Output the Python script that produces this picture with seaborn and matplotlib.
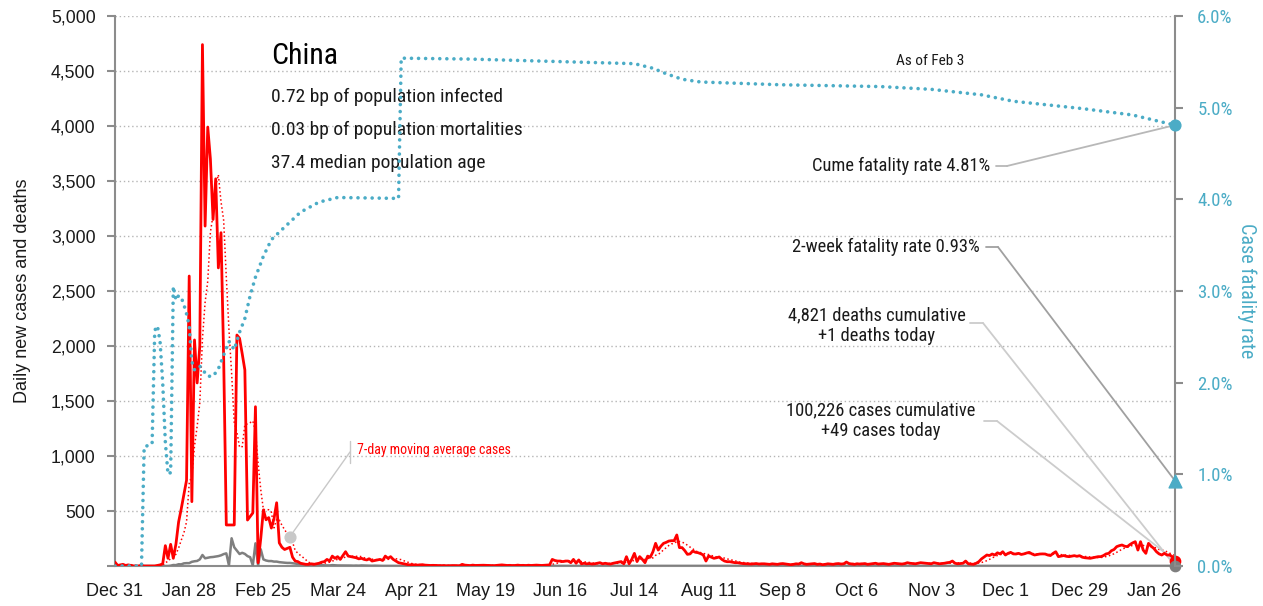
import pandas as pd
import seaborn as sns
import matplotlib.pyplot as plt
import matplotlib.dates as mdates
from matplotlib.ticker import FuncFormatter, MultipleLocator

# daily new cases, China (Dec 31 2019 - Feb 3 2021)
cases_dec19 = [35]
cases_jan20 = [5, 10, 15, 5, 10, 5, 0, 0, 0, 5,
               0, 0, 0, 0, 0, 5, 10, 20, 185, 70,
               197, 70, 200, 400, 520, 650, 780, 2636, 585, 2055, 1664]
cases_feb20 = [2000, 4740, 3090, 3990, 3700, 3150, 3520, 2710, 3030, 1900,
               373, 373, 373, 373, 2100, 2070, 1930, 1782, 418, 450,
               482, 1448, 30, 250, 510, 420, 440, 345, 430]
cases_mar20 = [575, 210, 170, 150, 160, 170, 80, 45, 40, 25,
               20, 15, 15, 20, 15, 20, 25, 35, 40, 60,
               45, 90, 70, 85, 60, 95, 130, 90, 85, 80, 75]
cases_apr20 = [65, 70, 60, 55, 65, 45, 50, 55, 60, 50,
               90, 70, 85, 60, 45, 30, 25, 20, 15, 10,
               12, 10, 8, 10, 12, 8, 6, 5, 6, 5]
cases_may20 = [5, 3, 4, 2, 3, 5, 4, 3, 2, 15,
               8, 6, 4, 8, 5, 6, 8, 7, 6, 5,
               4, 3, 6, 8, 10, 7, 5, 6, 4, 5, 8]
cases_jun20 = [5, 6, 4, 7, 5, 6, 8, 6, 5, 7,
               8, 10, 60, 50, 45, 45, 40, 45, 45, 30,
               60, 25, 55, 20, 25, 20, 22, 18, 20, 25]
cases_jul20 = [30, 20, 25, 20, 18, 25, 30, 35, 40, 20,
               85, 20, 60, 115, 40, 85, 60, 30, 90, 80,
               130, 206, 145, 180, 206, 215, 227, 230, 230, 282, 167]
cases_aug20 = [167, 140, 106, 110, 136, 125, 121, 112, 100, 45,
               91, 80, 70, 75, 82, 60, 45, 39, 39, 35,
               30, 30, 25, 22, 21, 20, 18, 20, 22, 18, 20]
cases_sep20 = [20, 18, 15, 20, 18, 15, 20, 22, 18, 15,
               12, 15, 20, 18, 30, 20, 15, 18, 20, 22,
               15, 18, 12, 15, 20, 18, 15, 20, 22, 18]
cases_oct20 = [20, 36, 22, 18, 15, 20, 18, 20, 22, 15,
               18, 20, 25, 18, 20, 22, 18, 15, 20, 25,
               22, 20, 18, 22, 30, 25, 22, 20, 25, 30, 28]
cases_nov20 = [25, 22, 20, 30, 25, 20, 22, 25, 30, 33,
               45, 25, 20, 22, 25, 45, 20, 18, 15, 25,
               40, 65, 82, 100, 95, 109, 100, 120, 110, 130]
cases_dec20 = [100, 115, 124, 110, 109, 115, 105, 110, 118, 124,
               110, 100, 105, 109, 110, 109, 100, 95, 115, 130,
               85, 90, 95, 88, 85, 90, 94, 88, 94, 80, 75]
cases_jan21 = [72, 70, 75, 80, 85, 85, 95, 110, 115, 139,
               150, 176, 185, 191, 180, 176, 195, 210, 221, 145,
               221, 145, 115, 206, 180, 160, 130, 110, 100, 115, 100]
cases_feb21 = [100, 85, 49]

# daily new deaths
deaths_dec19 = [0]
deaths_jan20 = [0, 0, 0, 0, 0, 0, 0, 0, 0, 0,
                1, 0, 0, 0, 0, 1, 0, 0, 0, 0,
                3, 9, 8, 16, 15, 24, 26, 26, 38, 43, 46]
deaths_feb20 = [60, 100, 70, 75, 80, 82, 86, 90, 97, 108,
                115, 5, 252, 170, 140, 109, 120, 110, 90, 80,
                5, 206, 5, 152, 60, 50, 45, 45, 40]
deaths_mar20 = [40, 35, 32, 30, 28, 28, 25, 22, 18, 15,
                12, 10, 10, 8, 10, 12, 10, 8, 6, 6,
                5, 8, 6, 5, 5, 6, 4, 5, 4, 3, 4]
deaths_apr20 = [3, 5, 4, 3, 2, 2, 3, 2, 2, 1,
                1, 1, 1, 1, 1, 1, 1, 1, 1, 0,
                0, 0, 0, 0, 0, 0, 0, 0, 0, 0]
deaths_may20 = [0, 0, 0, 0, 0, 0, 0, 0, 0, 0,
                0, 0, 0, 0, 0, 0, 0, 0, 0, 0,
                0, 0, 0, 0, 0, 0, 0, 0, 0, 0, 0]
deaths_jun20 = [0, 0, 0, 0, 0, 0, 0, 0, 0, 0,
                0, 0, 0, 0, 0, 0, 0, 0, 0, 0,
                0, 0, 0, 0, 0, 0, 0, 0, 0, 0]
deaths_jul20 = [0, 0, 0, 0, 0, 0, 0, 0, 0, 0,
                0, 0, 0, 0, 0, 0, 0, 0, 0, 0,
                0, 0, 0, 0, 0, 0, 0, 0, 0, 1, 0]
deaths_aug20 = [0, 1, 0, 0, 1, 0, 0, 0, 1, 0,
                0, 1, 0, 0, 0, 0, 0, 0, 0, 0,
                0, 0, 0, 0, 0, 0, 0, 0, 0, 0, 0]
deaths_sep20 = [0, 0, 0, 0, 0, 0, 0, 0, 0, 0,
                0, 0, 0, 0, 0, 0, 0, 0, 0, 0,
                0, 0, 0, 0, 0, 0, 0, 0, 0, 0]
deaths_oct20 = [0, 0, 0, 0, 0, 0, 0, 0, 0, 0,
                0, 0, 0, 0, 0, 0, 0, 0, 0, 0,
                0, 0, 0, 0, 0, 0, 0, 0, 0, 0, 0]
deaths_nov20 = [0, 0, 0, 0, 0, 0, 0, 0, 0, 0,
                0, 0, 0, 0, 0, 0, 0, 0, 0, 0,
                0, 0, 0, 0, 0, 0, 0, 0, 0, 0]
deaths_dec20 = [0, 0, 0, 0, 0, 0, 0, 0, 0, 0,
                0, 0, 0, 0, 0, 0, 0, 0, 0, 0,
                0, 0, 0, 0, 0, 0, 0, 0, 0, 0, 0]
deaths_jan21 = [0, 0, 0, 0, 0, 0, 0, 0, 0, 0,
                0, 0, 1, 1, 0, 0, 0, 0, 1, 0,
                1, 0, 0, 1, 0, 0, 0, 1, 0, 0, 0]
deaths_feb21 = [0, 0, 1]

# cumulative case fatality rate (%), right axis
cfr_dates = ['2019-12-31', '2020-01-10', '2020-01-11', '2020-01-14', '2020-01-15',
             '2020-01-16', '2020-01-17', '2020-01-18', '2020-01-19', '2020-01-20',
             '2020-01-21', '2020-01-22', '2020-01-23', '2020-01-24', '2020-01-25',
             '2020-01-26', '2020-01-27', '2020-01-28', '2020-01-29', '2020-01-30',
             '2020-02-01', '2020-02-04', '2020-02-06', '2020-02-08', '2020-02-10',
             '2020-02-12', '2020-02-14', '2020-02-16', '2020-02-18', '2020-02-20',
             '2020-02-22', '2020-02-25', '2020-02-28', '2020-03-03', '2020-03-10',
             '2020-03-17', '2020-03-24', '2020-04-16', '2020-04-17', '2020-05-13',
             '2020-06-19', '2020-07-14', '2020-07-21', '2020-07-26', '2020-08-01',
             '2020-08-08', '2020-09-07', '2020-10-15', '2020-11-03', '2020-11-22',
             '2020-12-04', '2020-12-30', '2021-01-18', '2021-01-31', '2021-02-03']
cfr_pct = [0.0, 0.0, 1.30, 1.33, 2.57,
           2.62, 2.45, 2.00, 1.35, 1.00,
           1.02, 3.05, 2.90, 2.95, 2.93,
           2.85, 2.75, 2.62, 2.23, 2.14,
           2.18, 2.07, 2.07, 2.15, 2.30,
           2.45, 2.36, 2.55, 2.70, 2.95,
           3.15, 3.38, 3.56, 3.67, 3.86,
           3.97, 4.02, 4.01, 5.54, 5.53,
           5.50, 5.48, 5.43, 5.37, 5.31,
           5.28, 5.25, 5.23, 5.20, 5.14,
           5.07, 4.99, 4.92, 4.83, 4.81]
two_week_cfr = 0.93

title = 'China'
info_lines = ['0.72 bp of population infected',
              '0.03 bp of population mortalities',
              '37.4 median population age']

cases = (cases_dec19 + cases_jan20 + cases_feb20 + cases_mar20 + cases_apr20 + cases_may20
         + cases_jun20 + cases_jul20 + cases_aug20 + cases_sep20 + cases_oct20 + cases_nov20
         + cases_dec20 + cases_jan21 + cases_feb21)
deaths = (deaths_dec19 + deaths_jan20 + deaths_feb20 + deaths_mar20 + deaths_apr20 + deaths_may20
          + deaths_jun20 + deaths_jul20 + deaths_aug20 + deaths_sep20 + deaths_oct20 + deaths_nov20
          + deaths_dec20 + deaths_jan21 + deaths_feb21)

df = pd.DataFrame({'date': pd.date_range('2019-12-31', '2021-02-03'),
                   'cases': cases, 'deaths': deaths})
df['ma'] = df['cases'].rolling(7).mean()
cfr = pd.DataFrame({'date': pd.to_datetime(cfr_dates), 'cfr': cfr_pct})

RED = '#ff0000'
GREY = '#7f7f7f'
BLUE = '#4bacc6'
SPINE = '#8c8c8c'
TXT = '#1a1a1a'
TICKFONT = ['Liberation Sans', 'DejaVu Sans']

sns.set_style('white')
plt.rcParams['font.family'] = ['Roboto Condensed', 'DejaVu Sans']

fig, ax = plt.subplots(figsize=(12.63, 6.06), dpi=100)
fig.subplots_adjust(left=115/1263, right=1175/1263, bottom=40/606, top=590/606)

sns.lineplot(data=df, x='date', y='cases', ax=ax, color=RED, lw=2.0, zorder=4)
sns.lineplot(data=df, x='date', y='ma', ax=ax, color=RED, lw=1.1, linestyle=':', zorder=3)
sns.lineplot(data=df, x='date', y='deaths', ax=ax, color=GREY, lw=1.8, zorder=3)

ax2 = ax.twinx()
sns.lineplot(data=cfr, x='date', y='cfr', ax=ax2, color=BLUE, lw=2.6,
             linestyle=(0, (0.01, 1.95)), dash_capstyle='round', zorder=2)

start, end = df['date'].iloc[0], df['date'].iloc[-1]
ax.set_xlim(start, end)
ax.set_ylim(0, 5000)
ax2.set_ylim(0, 6)

# axes styling
ax.yaxis.set_major_locator(MultipleLocator(500))
ax.yaxis.set_major_formatter(FuncFormatter(lambda v, p: f'{int(v):,}' if v > 0 else ''))
ax2.yaxis.set_major_locator(MultipleLocator(1))
ax2.yaxis.set_major_formatter(FuncFormatter(lambda v, p: f'{v:.1f}%'))
ax.set_xticks(pd.date_range(start, periods=15, freq='28D'))
ax.xaxis.set_major_formatter(mdates.DateFormatter('%b %-d'))

ax.yaxis.grid(True, linestyle=(0, (1, 2)), color='#b5b5b5', lw=1)
ax.set_axisbelow(True)
for s in ['top', 'right']:
    ax.spines[s].set_visible(False)
for s in ['top', 'left', 'bottom']:
    ax2.spines[s].set_visible(False)
for sp in [ax.spines['left'], ax.spines['bottom'], ax2.spines['right']]:
    sp.set_color(SPINE)
    sp.set_linewidth(1.5)
ax.tick_params(axis='y', length=6, width=1.5, color=SPINE, labelsize=12.7, pad=8, labelcolor=TXT)
ax.tick_params(axis='x', length=6, width=1.5, color=SPINE, labelsize=13, pad=6, labelcolor=TXT)
ax2.tick_params(axis='y', length=6, width=1.5, color=SPINE, labelsize=13.5, pad=10, labelcolor=BLUE)
plt.setp(ax.get_yticklabels() + ax.get_xticklabels(), family=TICKFONT)

ax.set_xlabel('')
ax.set_ylabel('Daily new cases and deaths', fontsize=13, color=TXT, labelpad=14, family=TICKFONT)
ax2.set_ylabel('Case fatality rate', fontsize=14.5, color=BLUE, rotation=270, va='bottom', labelpad=3)

# end-of-series markers
ax.scatter([end], [df['cases'].iloc[-1]], s=55, color=RED, zorder=6, clip_on=False)
ax.scatter([end], [df['deaths'].iloc[-1]], s=55, color=GREY, zorder=7, clip_on=False)
ax2.scatter([end], [cfr['cfr'].iloc[-1]], s=60, color=BLUE, zorder=6, clip_on=False)
ax2.scatter([end], [two_week_cfr], marker='^', s=85, color=BLUE, zorder=6, clip_on=False)

# header text
ax.text(0.147, 0.927, title, transform=ax.transAxes, fontsize=21.5, va='center', color='black')
for i, line in enumerate(info_lines):
    ax.text(0.147, 0.853 - i * 0.06, line, transform=ax.transAxes, fontsize=14,
            va='center', color=TXT)
ax.text(0.769, 0.918, 'As of Feb 3', transform=ax.transAxes, fontsize=11, ha='center',
        va='center', color=TXT)


def px(x, y):
    # pixel position in the figure -> axes fraction
    return ((x - 115) / 1060, (566 - y) / 550)


def callout(axis, target, start_px, corner_px, color):
    axis.annotate('', xy=px(*corner_px), xytext=px(*start_px), xycoords='axes fraction',
                  textcoords='axes fraction',
                  arrowprops=dict(arrowstyle='-', color=color, lw=1.3, shrinkA=0, shrinkB=0))
    axis.annotate('', xy=target, xytext=px(*corner_px), xycoords='data',
                  textcoords='axes fraction',
                  arrowprops=dict(arrowstyle='-', color=color, lw=1.3, shrinkA=0, shrinkB=0))


ax2.text(*px(990, 166), 'Cume fatality rate 4.81%', transform=ax.transAxes, fontsize=13.3,
         ha='right', va='center', color=TXT)
callout(ax2, (end, cfr['cfr'].iloc[-1]), (996, 166), (1007, 166), '#b8b8b8')

ax2.text(*px(980, 247), '2-week fatality rate 0.93%', transform=ax.transAxes, fontsize=13.3,
         ha='right', va='center', color=TXT)
callout(ax2, (end, two_week_cfr), (986, 247), (998, 247), '#a0a0a0')

ax2.text(*px(877, 326), '4,821 deaths cumulative\n+1 deaths today', transform=ax.transAxes,
         fontsize=13.3, ha='center', va='center', multialignment='center', linespacing=1.2,
         color=TXT)
callout(ax, (end, df['deaths'].iloc[-1]), (970, 323), (983, 323), '#cccccc')

ax2.text(*px(881, 421), '100,226 cases cumulative\n+49 cases today', transform=ax.transAxes,
         fontsize=13.3, ha='center', va='center', multialignment='center', linespacing=1.2,
         color=TXT)
callout(ax, (end, df['cases'].iloc[-1]), (984, 421), (997, 421), '#cccccc')

# moving-average label
ma_date = pd.Timestamp('2020-03-06')
ma_val = df.loc[df['date'] == ma_date, 'ma'].iloc[0]
ax.scatter([ma_date], [ma_val], s=60, color='#c8c8c8', zorder=6)
ax.annotate('', xy=(ma_date, ma_val), xytext=px(350, 452), textcoords='axes fraction',
            arrowprops=dict(arrowstyle='-', color='#c8c8c8', lw=1, shrinkA=0, shrinkB=0))
ax.plot([px(350, 441)[0]] * 2, [px(350, 441)[1], px(350, 463)[1]], transform=ax.transAxes,
        color='#c8c8c8', lw=1)
ax.text(*px(357, 450), '7-day moving average cases', transform=ax.transAxes, fontsize=10,
        color=RED, va='center')

plt.savefig('out.png', dpi=100)
